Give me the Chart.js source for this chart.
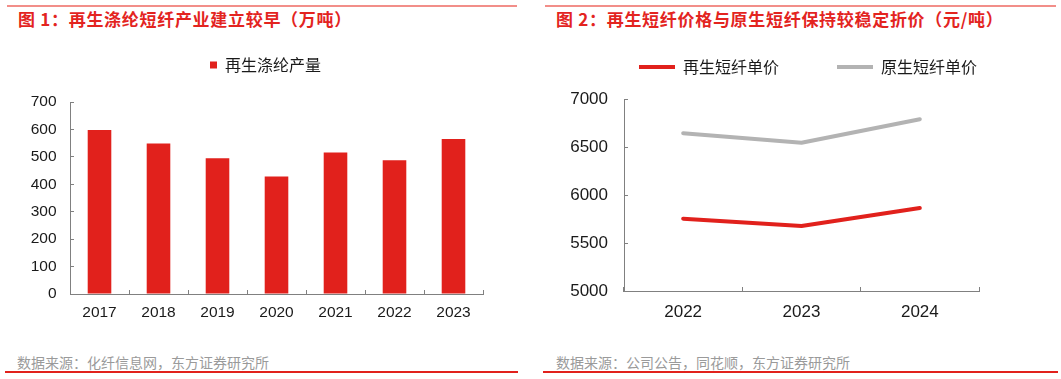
<!DOCTYPE html>
<html><head><meta charset="utf-8">
<script src="https://cdn.jsdelivr.net/npm/chart.js"></script>
<style>
html,body{margin:0;padding:0;background:#fff;width:1061px;height:379px;overflow:hidden;position:relative;font-family:"Noto Sans CJK SC","Noto Sans",sans-serif;}
.rule{position:absolute;height:2px;}
.title{position:absolute;top:9px;color:#E3241F;font-weight:bold;font-size:17px;letter-spacing:0.7px;line-height:20px;white-space:nowrap;}
.src{position:absolute;top:354px;color:#9a9a9a;font-size:14px;line-height:16px;white-space:nowrap;}
canvas{position:absolute;top:0;}
</style></head><body>
<div class="rule" style="left:7px;top:5px;width:510px;background:#F28E89"></div>
<div class="rule" style="left:545px;top:5px;width:511px;background:#F28E89"></div>
<div class="title" style="left:18px">图 1：再生涤纶短纤产业建立较早（万吨）</div>
<div class="title" style="left:556px">图 2：再生短纤价格与原生短纤保持较稳定折价（元/吨）</div>
<canvas id="c1" width="530" height="330" style="left:0"></canvas>
<canvas id="c2" width="486" height="330" style="left:565px"></canvas>
<div class="src" style="left:17px">数据来源：化纤信息网，东方证券研究所</div>
<div class="src" style="left:556px">数据来源：公司公告，同花顺，东方证券研究所</div>
<div class="rule" style="left:5px;top:371px;width:513px;background:#E1211C"></div>
<div class="rule" style="left:543px;top:371px;width:515px;background:#E1211C"></div>
<script>
// ---- data ----
const years1 = ['2017', '2018', '2019', '2020', '2021', '2022', '2023'];
const recycledPolyesterOutput = [598, 549, 495, 428, 516, 488, 565];
const outputLabel = '再生涤纶产量';

const years2 = ['2022', '2023', '2024'];
const recycledFiberPrice = [5753, 5677, 5865];
const virginFiberPrice = [6643, 6545, 6789];
const recycledLabel = '再生短纤单价';
const virginLabel = '原生短纤单价';

// ---- styles ----
const RED = '#E1211C';
const GRAY_LINE = '#B3B3B3';
const AXIS = '#808080';
const TEXT = '#1a1a1a';
const NUM_FONT = 'Liberation Sans, Arial, sans-serif';
const CJK_FONT = 'Noto Sans CJK SC, sans-serif';

Chart.defaults.animation = false;

new Chart(document.getElementById('c1'), {
  type: 'bar',
  data: {
    labels: years1,
    datasets: [{
      label: outputLabel,
      data: recycledPolyesterOutput,
      backgroundColor: RED,
      borderWidth: 0,
      barPercentage: 0.4,
      categoryPercentage: 1
    }]
  },
  options: {
    responsive: false,
    animation: false,
    layout: {padding: {left: 28, right: 27, top: 47, bottom: 0}},
    plugins: {
      tooltip: {enabled: false},
      legend: {
        display: true, position: 'top',
        labels: {boxWidth: 7, boxHeight: 7, padding: 10, color: TEXT, font: {family: CJK_FONT, size: 16}}
      },
      subtitle: {display: true, text: '', weight: 500, padding: 0, font: {size: 19, lineHeight: 1}}
    },
    scales: {
      x: {
        offset: true,
        grid: {display: true, offset: true, drawOnChartArea: false, drawTicks: true, tickLength: -4, color: AXIS},
        border: {display: true, color: AXIS, width: 1},
        ticks: {color: TEXT, font: {family: NUM_FONT, size: 15.5}, padding: 13.7, maxRotation: 0, autoSkip: false},
        afterFit(s) { s.height = 36; }
      },
      y: {
        min: 0, max: 700,
        grid: {display: true, drawOnChartArea: false, drawTicks: true, tickLength: -4, color: AXIS},
        border: {display: true, color: AXIS, width: 1},
        ticks: {stepSize: 100, color: TEXT, font: {family: NUM_FONT, size: 15.5}, padding: 17.5},
        afterFit(s) { s.width = 42; }
      },
      y2: {
        position: 'right', display: true,
        grid: {display: false}, border: {display: false}, ticks: {display: false},
        afterFit(s) { s.width = 20; }
      }
    }
  }
});

new Chart(document.getElementById('c2'), {
  type: 'line',
  data: {
    labels: years2,
    datasets: [{
      label: recycledLabel,
      data: recycledFiberPrice,
      borderColor: RED, backgroundColor: RED,
      borderWidth: 4, pointRadius: 0, pointStyle: 'line',
      borderCapStyle: 'round', borderJoinStyle: 'round', tension: 0
    }, {
      label: virginLabel,
      data: virginFiberPrice,
      borderColor: GRAY_LINE, backgroundColor: GRAY_LINE,
      borderWidth: 4, pointRadius: 0, pointStyle: 'line',
      borderCapStyle: 'round', borderJoinStyle: 'round', tension: 0
    }]
  },
  options: {
    responsive: false,
    animation: false,
    layout: {padding: {left: 0, right: 0, top: 1, bottom: 0}},
    plugins: {
      tooltip: {enabled: false},
      legend: {
        display: true, position: 'top',
        labels: {usePointStyle: true, pointStyleWidth: 36, padding: 58, color: TEXT, font: {family: CJK_FONT, size: 16}}
      },
      subtitle: {display: true, text: '', weight: 500, padding: 0, font: {size: 14, lineHeight: 1}}
    },
    scales: {
      x: {
        offset: true,
        grid: {display: true, offset: true, drawOnChartArea: false, drawTicks: true, tickLength: -4, color: AXIS},
        border: {display: true, color: AXIS, width: 1},
        ticks: {color: TEXT, font: {family: NUM_FONT, size: 17}, padding: 15.2, maxRotation: 0, autoSkip: false},
        afterFit(s) { s.height = 39; }
      },
      y: {
        min: 5000, max: 7000,
        grid: {display: true, drawOnChartArea: false, drawTicks: true, tickLength: -4, color: AXIS},
        border: {display: true, color: AXIS, width: 1},
        ticks: {stepSize: 500, format: {useGrouping: false}, color: TEXT, font: {family: NUM_FONT, size: 17}, padding: 20},
        afterFit(s) { s.width = 59; }
      },
      y2: {
        position: 'right', display: true,
        grid: {display: false}, border: {display: false}, ticks: {display: false},
        afterFit(s) { s.width = 72; }
      }
    }
  }
});
</script>
</body></html>
